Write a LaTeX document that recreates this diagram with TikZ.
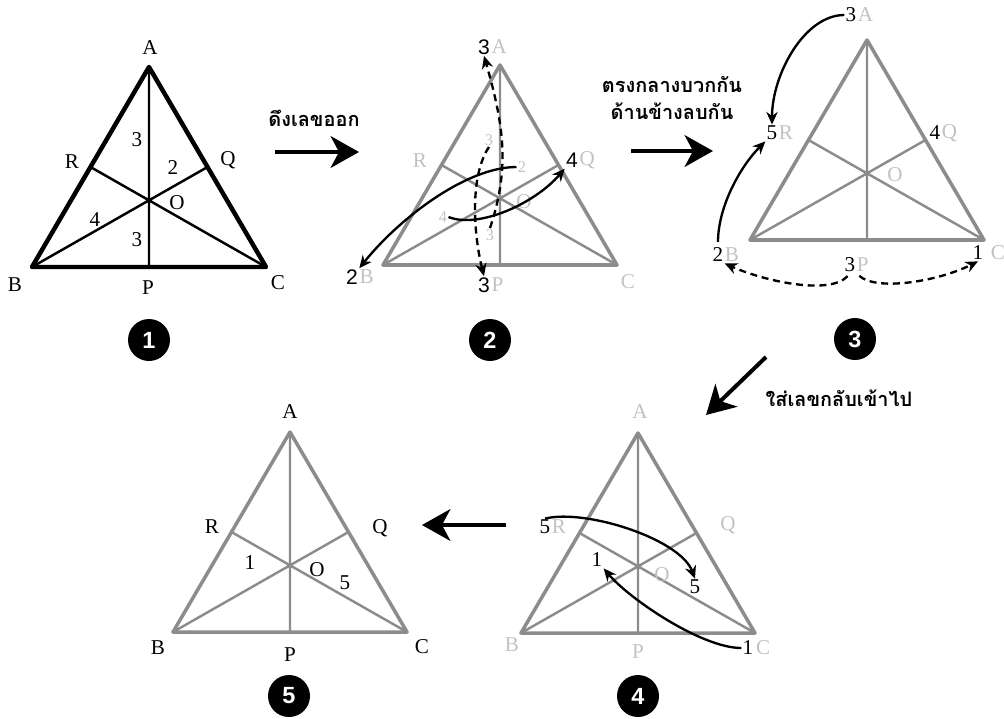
\documentclass[tikz,border=0pt]{standalone}
\usepackage{fontspec}
\setmainfont{Liberation Serif}
\setsansfont{Liberation Sans}
\newfontfamily\thaifont[Script=Thai]{Loma}
\usepackage{tikz}
\usetikzlibrary{arrows.meta,positioning}
\definecolor{linha}{HTML}{8C8C8C}
\definecolor{apagado}{HTML}{C2C2C2}
\tikzset{
  lado/.style={line width=3pt, line join=round},
  mediana/.style={line width=2.1pt},
  rotulo/.style={font=\fontsize{18}{20}\selectfont, inner sep=1pt},
  numero/.style={font=\sffamily\fontsize{18}{20}\selectfont, inner sep=1pt},
  miudo/.style={font=\fontsize{14}{16}\selectfont, text=apagado, inner sep=1pt},
  passo/.style={-{Stealth[length=8.5mm,width=9.5mm,inset=2.5mm]}, line width=3.4pt},
  flecha/.style={-{Stealth[length=3.8mm,width=3.4mm]}, line width=2pt},
  tracejada/.style={flecha, dash pattern=on 6pt off 4pt},
  etapa/.style={circle, fill=black, text=white, minimum size=12.6mm, inner sep=0pt,
    font=\sffamily\bfseries\fontsize{20}{20}\selectfont},
  aviso/.style={font=\thaifont\bfseries\fontsize{17}{23}\selectfont, align=center},
}
% triangulo: prefixo, x e y do vertice A, cor do traco
\newcommand{\triangulo}[4]{%
  \coordinate (#1A) at (#2,#3);
  \coordinate (#1B) at (#2-117,#3+200);
  \coordinate (#1C) at (#2+117,#3+200);
  \coordinate (#1P) at (#2,#3+200);
  \coordinate (#1Q) at (#2+58.5,#3+100);
  \coordinate (#1R) at (#2-58.5,#3+100);
  \draw[lado, #4] (#1A) -- (#1B) -- (#1C) -- cycle;
  \draw[mediana, #4] (#1A) -- (#1P) (#1B) -- (#1Q) (#1C) -- (#1R);
}

\begin{document}
\begin{tikzpicture}[x=0.3mm, y=-0.3mm]
    \useasboundingbox (0,0) rectangle (1004,718);

    % 1
    \triangulo{1}{149}{67}{black}
    \draw[lado, line width=3.8pt] (1A) -- (1B) -- (1C) -- cycle;
    \node[rotulo] (l1a) at (150,48) {A};
    \node[rotulo] (l1r) at (72,162) {R};
    \node[rotulo] (l1q) at (228,160) {Q};
    \node[rotulo] (m1a) at (137,140) {3};
    \node[rotulo] (m1q) at (173,168) {2};
    \node[rotulo] (l1o) at (177,203) {O};
    \node[rotulo] (m1b) at (95,220) {4};
    \node[rotulo] (m1p) at (137,240) {3};
    \node[rotulo] (l1b) at (15,285) {B};
    \node[rotulo] (l1p) at (148,288) {P};
    \node[rotulo] (l1c) at (278,283) {C};
    \node[etapa] (c1) at (149,340) {1};

    \coordinate (s1) at (275,152);
    \coordinate (e1) at (359,152);
    \draw[passo] (s1) -- (e1);
    \node[aviso] (t1) at (314,118) {ดึงเลขออก};

    % 2
    \triangulo{2}{500}{65}{linha}
    \node[numero] (n2a) at (484,47) {3};
    \node[rotulo, text=apagado, right=-1pt of n2a] (l2a) {A};
    \node[rotulo, text=apagado] (l2r) at (420,161) {R};
    \node[numero] (n2q) at (572,160) {4};
    \node[rotulo, text=apagado, right=-1pt of n2q] (l2q) {Q};
    \node[miudo] (m2a) at (489,140) {3};
    \node[miudo] (m2q) at (522,167) {2};
    \node[rotulo, text=apagado] (l2o) at (524,202) {O};
    \node[miudo] (m2b) at (443,217) {4};
    \node[miudo] (m2p) at (490,235) {3};
    \node[numero] (n2b) at (352,277) {2};
    \node[rotulo, text=apagado, right=-1pt of n2b] (l2b) {B};
    \node[numero] (n2p) at (484,285) {3};
    \node[rotulo, text=apagado, right=-1pt of n2p] (l2p) {P};
    \node[rotulo, text=apagado] (l2c) at (628,282) {C};
    \draw[flecha] (m2q.west) .. controls +(-50,0) and +(40,-50) .. (n2b.north east);
    \draw[flecha] (m2b.east) .. controls +(30,12) and +(-30,35) .. (n2q.south west);
    \draw[tracejada] (m2p.north) .. controls +(20,-60) and +(20,70) .. (n2a.south);
    \draw[tracejada] (m2a.south) .. controls +(-20,30) and +(-10,-40) .. (n2p.north);
    \node[etapa] (c2) at (490,340) {2};

    \coordinate (s2) at (631,151);
    \coordinate (e2) at (713,151);
    \draw[passo] (s2) -- (e2);
    \node[aviso] (t2) at (672,98) {ตรงกลางบวกกัน\\ด้านข้างลบกัน};

    % 3
    \triangulo{3}{867}{40}{linha}
    \node[rotulo] (n3a) at (851,15) {3};
    \node[rotulo, text=apagado, right=-1pt of n3a] (l3a) {A};
    \node[rotulo] (n3r) at (772,133) {5};
    \node[rotulo, text=apagado, right=-1pt of n3r] (l3r) {R};
    \node[rotulo] (n3q) at (935,133) {4};
    \node[rotulo, text=apagado, right=-1pt of n3q] (l3q) {Q};
    \node[rotulo, text=apagado] (l3o) at (895,175) {O};
    \node[rotulo] (n3b) at (718,255) {2};
    \node[rotulo, text=apagado, right=-1pt of n3b] (l3b) {B};
    \node[rotulo] (n3p) at (850,265) {3};
    \node[rotulo, text=apagado, right=-1pt of n3p] (l3p) {P};
    \node[rotulo] (n3c) at (978,253) {1};
    \node[rotulo, text=apagado] (l3c) at (998,253) {C};
    \draw[flecha] (n3a.west) .. controls +(-40,0) and +(0,-50) .. (n3r.north);
    \draw[flecha, shorten <=4pt] (n3b.north) .. controls +(0,-40) and +(-25,25) .. (n3r.south west);
    \draw[tracejada, shorten <=3pt] (n3p.south) .. controls +(-20,22) and +(40,18) .. (n3b.south east);
    \draw[tracejada, shorten <=3pt] (n3p.south east) .. controls +(20,18) and +(-40,20) .. (n3c.south);
    \node[etapa] (c3) at (855,339) {3};

    \coordinate (s3) at (766,357);
    \coordinate (e3) at (706,415);
    \draw[passo] (s3) -- (e3);
    \node[aviso] (t3) at (839,398) {ใส่เลขกลับเข้าไป};

    % 4
    \triangulo{4}{638}{433}{linha}
    \node[rotulo, text=apagado] (l4a) at (640,412) {A};
    \node[rotulo] (n4r) at (545,527) {5};
    \node[rotulo, text=apagado, right=-1pt of n4r] (l4r) {R};
    \node[rotulo, text=apagado] (l4q) at (728,525) {Q};
    \node[rotulo] (n4i) at (597,560) {1};
    \node[rotulo, text=apagado] (l4o) at (662,575) {O};
    \node[rotulo] (n4u) at (695,587) {5};
    \node[rotulo, text=apagado] (l4b) at (512,645) {B};
    \node[rotulo, text=apagado] (l4p) at (638,652) {P};
    \node[rotulo] (n4c) at (748,648) {1};
    \node[rotulo, text=apagado, right=0pt of n4c] (l4c) {C};
    \draw[flecha] (n4r.north) .. controls +(40,-10) and +(-15,-40) .. (n4u.north);
    \draw[flecha] (n4c.west) .. controls +(-40,0) and +(25,30) .. (n4i.south east);
    \node[etapa] (c4) at (638,696) {4};

    \coordinate (s4) at (506,525);
    \coordinate (e4) at (422,525);
    \draw[passo] (s4) -- (e4);

    % 5
    \triangulo{5}{290}{432}{linha}
    \node[rotulo] (l5a) at (290,412) {A};
    \node[rotulo] (l5r) at (212,527) {R};
    \node[rotulo] (l5q) at (380,528) {Q};
    \node[rotulo] (n5i) at (250,563) {1};
    \node[rotulo] (l5o) at (317,570) {O};
    \node[rotulo] (n5u) at (345,583) {5};
    \node[rotulo] (l5b) at (158,648) {B};
    \node[rotulo] (l5p) at (290,655) {P};
    \node[rotulo] (l5c) at (422,647) {C};
    \node[etapa] (c5) at (289,696) {5};
\end{tikzpicture}
\end{document}
